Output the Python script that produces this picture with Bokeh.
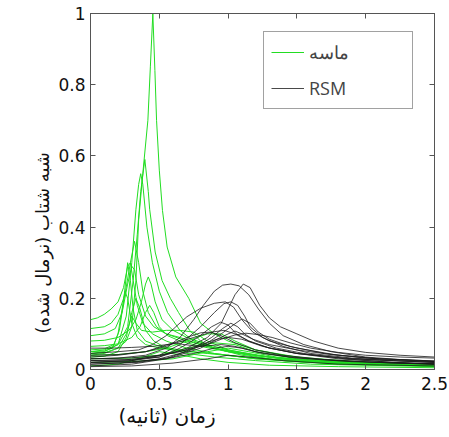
import math
from bokeh.plotting import figure
from bokeh.models import Legend, LegendItem, LinearAxis, Title, FixedTicker, Range1d
from bokeh.embed import file_html
from bokeh.resources import INLINE

x_ticks = [0, 0.5, 1, 1.5, 2, 2.5]
x_tick_labels = ["0", "0.5", "1", "1.5", "2", "2.5"]
y_ticks = [0, 0.2, 0.4, 0.6, 0.8, 1]
y_tick_labels = ["0", "0.2", "0.4", "0.6", "0.8", "1"]

x_label = "زمان (ثانیه)"
y_label = "شبه شتاب (نرمال شده)"
sand_name = "ماسه"
rsm_name = "RSM"

# sand (ماسه) records: time (s) and normalised pseudo-acceleration
sand_t = [
    [0, 0.1, 0.2, 0.26, 0.3, 0.33, 0.35, 0.38, 0.417, 0.435, 0.453, 0.468, 0.48, 0.5, 0.523, 0.557, 0.62, 0.714, 0.8, 0.9, 1.0, 1.2, 1.5, 2.0, 2.5],
    [0, 0.1, 0.2, 0.27, 0.31, 0.34, 0.365, 0.395, 0.42, 0.43, 0.47, 0.52, 0.58, 0.64, 0.72, 0.8, 0.9, 1.1, 1.4, 1.8, 2.5],
    [0, 0.1, 0.2, 0.26, 0.3, 0.33, 0.35, 0.365, 0.38, 0.41, 0.45, 0.5, 0.56, 0.65, 0.75, 0.9, 1.1, 1.4, 1.8, 2.5],
    [0, 0.05, 0.1, 0.15, 0.2, 0.24, 0.27, 0.29, 0.31, 0.34, 0.38, 0.45, 0.55, 0.7, 0.9, 1.2, 1.6, 2.0, 2.5],
    [0, 0.1, 0.15, 0.2, 0.25, 0.29, 0.32, 0.35, 0.38, 0.42, 0.48, 0.55, 0.7, 0.9, 1.1, 1.4, 1.8, 2.5],
    [0, 0.1, 0.18, 0.23, 0.27, 0.3, 0.32, 0.35, 0.4, 0.46, 0.55, 0.65, 0.8, 1.0, 1.3, 1.7, 2.5],
    [0, 0.1, 0.2, 0.28, 0.33, 0.37, 0.4, 0.42, 0.44, 0.47, 0.52, 0.6, 0.7, 0.85, 1.0, 1.3, 1.7, 2.5],
    [0, 0.1, 0.2, 0.3, 0.36, 0.4, 0.43, 0.46, 0.5, 0.56, 0.65, 0.8, 1.0, 1.3, 1.7, 2.5],
    [0, 0.1, 0.17, 0.21, 0.24, 0.27, 0.29, 0.31, 0.34, 0.4, 0.5, 0.65, 0.85, 1.1, 1.5, 2.0, 2.5],
    [0, 0.1, 0.16, 0.2, 0.23, 0.25, 0.27, 0.3, 0.34, 0.4, 0.5, 0.7, 0.9, 1.2, 1.6, 2.5],
    [0, 0.1, 0.2, 0.26, 0.3, 0.33, 0.37, 0.45, 0.55, 0.65, 0.75, 0.85, 1.0, 1.2, 1.5, 2.0, 2.5],
    [0, 0.2, 0.4, 0.55, 0.7, 0.85, 0.95, 1.05, 1.2, 1.4, 1.7, 2.1, 2.5],
    [0, 0.3, 0.5, 0.7, 0.9, 1.05, 1.2, 1.5, 1.9, 2.5],
    [0, 0.3, 0.6, 0.85, 1.0, 1.15, 1.35, 1.7, 2.2, 2.5],
    [0, 0.2, 0.35, 0.5, 0.6, 0.8, 1.0, 1.3, 1.8, 2.5],
    [0, 0.1, 0.2, 0.26, 0.3, 0.33, 0.36, 0.4, 0.46, 0.55, 0.7, 0.9, 1.2, 1.6, 2.5],
]
sand_a = [
    [0.04, 0.045, 0.06, 0.08, 0.12, 0.25, 0.42, 0.55, 0.70, 0.85, 1.0, 0.84, 0.70, 0.56, 0.447, 0.344, 0.26, 0.2, 0.13, 0.1, 0.08, 0.055, 0.035, 0.02, 0.015],
    [0.05, 0.055, 0.07, 0.12, 0.25, 0.38, 0.5, 0.59, 0.5, 0.45, 0.33, 0.25, 0.2, 0.16, 0.11, 0.08, 0.06, 0.04, 0.025, 0.015, 0.01],
    [0.045, 0.05, 0.07, 0.15, 0.3, 0.45, 0.52, 0.55, 0.52, 0.4, 0.3, 0.22, 0.16, 0.11, 0.08, 0.06, 0.045, 0.03, 0.02, 0.012],
    [0.14, 0.145, 0.155, 0.17, 0.19, 0.23, 0.29, 0.3, 0.25, 0.18, 0.13, 0.1, 0.08, 0.06, 0.045, 0.03, 0.02, 0.015, 0.01],
    [0.115, 0.12, 0.13, 0.155, 0.21, 0.3, 0.36, 0.3, 0.22, 0.16, 0.12, 0.1, 0.08, 0.06, 0.045, 0.03, 0.02, 0.012],
    [0.095, 0.1, 0.115, 0.16, 0.24, 0.29, 0.28, 0.21, 0.15, 0.12, 0.1, 0.09, 0.07, 0.05, 0.035, 0.022, 0.012],
    [0.08, 0.082, 0.09, 0.11, 0.14, 0.19, 0.24, 0.26, 0.24, 0.19, 0.14, 0.11, 0.09, 0.07, 0.055, 0.035, 0.022, 0.012],
    [0.065, 0.067, 0.072, 0.09, 0.12, 0.16, 0.18, 0.16, 0.12, 0.095, 0.08, 0.065, 0.05, 0.03, 0.02, 0.01],
    [0.055, 0.058, 0.07, 0.11, 0.19, 0.3, 0.25, 0.17, 0.11, 0.08, 0.065, 0.055, 0.045, 0.035, 0.022, 0.015, 0.01],
    [0.05, 0.052, 0.06, 0.1, 0.17, 0.22, 0.2, 0.13, 0.09, 0.07, 0.06, 0.05, 0.045, 0.03, 0.02, 0.01],
    [0.045, 0.047, 0.06, 0.1, 0.15, 0.13, 0.11, 0.105, 0.11, 0.11, 0.105, 0.08, 0.055, 0.04, 0.025, 0.015, 0.01],
    [0.04, 0.042, 0.05, 0.06, 0.08, 0.1, 0.1, 0.08, 0.055, 0.04, 0.025, 0.018, 0.015],
    [0.03, 0.032, 0.04, 0.06, 0.075, 0.07, 0.05, 0.03, 0.02, 0.012],
    [0.02, 0.022, 0.03, 0.05, 0.06, 0.05, 0.035, 0.02, 0.012, 0.01],
    [0.01, 0.015, 0.03, 0.05, 0.045, 0.03, 0.02, 0.012, 0.008, 0.005],
    [0.035, 0.037, 0.05, 0.09, 0.16, 0.2, 0.17, 0.11, 0.08, 0.06, 0.045, 0.035, 0.025, 0.015, 0.008],
]

# RSM records
rsm_t = [
    [0, 0.2, 0.4, 0.55, 0.65, 0.75, 0.82, 0.9, 0.96, 1.02, 1.08, 1.15, 1.22, 1.3, 1.4, 1.55, 1.75, 2.0, 2.25, 2.5],
    [0, 0.3, 0.5, 0.7, 0.85, 0.95, 1.0, 1.05, 1.11, 1.16, 1.23, 1.3, 1.38, 1.5, 1.62, 1.8, 2.0, 2.25, 2.5],
    [0, 0.3, 0.5, 0.65, 0.8, 0.9, 0.97, 1.02, 1.07, 1.12, 1.16, 1.25, 1.4, 1.6, 1.9, 2.2, 2.5],
    [0, 0.2, 0.35, 0.45, 0.55, 0.62, 0.7, 0.8, 0.9, 0.98, 1.04, 1.1, 1.18, 1.3, 1.5, 1.8, 2.1, 2.5],
    [0, 0.3, 0.5, 0.7, 0.85, 0.95, 1.02, 1.1, 1.16, 1.22, 1.3, 1.45, 1.7, 2.0, 2.5],
    [0, 0.3, 0.5, 0.65, 0.78, 0.88, 0.945, 1.0, 1.06, 1.15, 1.3, 1.5, 1.8, 2.2, 2.5],
    [0, 0.3, 0.55, 0.75, 0.88, 0.96, 1.02, 1.07, 1.12, 1.2, 1.35, 1.55, 1.85, 2.2, 2.5],
    [0, 0.2, 0.4, 0.55, 0.7, 0.8, 0.87, 0.95, 1.05, 1.2, 1.4, 1.7, 2.1, 2.5],
    [0, 0.3, 0.5, 0.7, 0.85, 0.95, 1.05, 1.13, 1.22, 1.32, 1.45, 1.6, 1.8, 2.0, 2.25, 2.5],
    [0, 0.15, 0.3, 0.45, 0.6, 0.75, 0.88, 0.97, 1.05, 1.15, 1.3, 1.5, 1.8, 2.1, 2.5],
    [0, 0.2, 0.4, 0.52, 0.6, 0.68, 0.8, 0.95, 1.05, 1.2, 1.45, 1.8, 2.2, 2.5],
    [0, 0.3, 0.55, 0.75, 0.9, 1.0, 1.1, 1.25, 1.5, 1.9, 2.5],
    [0, 0.3, 0.6, 0.85, 1.0, 1.15, 1.4, 1.8, 2.5],
    [0, 0.25, 0.45, 0.65, 0.8, 0.92, 1.0, 1.1, 1.25, 1.5, 1.9, 2.5],
    [0, 0.35, 0.6, 0.8, 0.92, 1.0, 1.05, 1.1, 1.18, 1.3, 1.5, 1.75, 2.1, 2.5],
]
rsm_a = [
    [0.03, 0.032, 0.04, 0.06, 0.09, 0.14, 0.18, 0.22, 0.237, 0.24, 0.235, 0.21, 0.17, 0.13, 0.095, 0.07, 0.05, 0.035, 0.028, 0.022],
    [0.025, 0.028, 0.035, 0.06, 0.09, 0.13, 0.17, 0.21, 0.24, 0.23, 0.18, 0.145, 0.12, 0.1, 0.08, 0.06, 0.048, 0.04, 0.035],
    [0.02, 0.025, 0.04, 0.07, 0.12, 0.16, 0.185, 0.19, 0.18, 0.15, 0.12, 0.09, 0.065, 0.045, 0.032, 0.025, 0.02],
    [0.045, 0.05, 0.055, 0.07, 0.095, 0.12, 0.148, 0.172, 0.186, 0.19, 0.175, 0.14, 0.105, 0.08, 0.06, 0.04, 0.03, 0.024],
    [0.015, 0.02, 0.03, 0.05, 0.075, 0.1, 0.12, 0.142, 0.13, 0.105, 0.085, 0.065, 0.045, 0.032, 0.022],
    [0.02, 0.025, 0.035, 0.06, 0.09, 0.12, 0.133, 0.125, 0.1, 0.08, 0.06, 0.045, 0.03, 0.02, 0.016],
    [0.01, 0.015, 0.03, 0.06, 0.09, 0.115, 0.13, 0.12, 0.1, 0.08, 0.06, 0.045, 0.03, 0.02, 0.015],
    [0.04, 0.042, 0.05, 0.065, 0.09, 0.103, 0.105, 0.095, 0.075, 0.055, 0.04, 0.028, 0.02, 0.016],
    [0.03, 0.033, 0.04, 0.055, 0.07, 0.085, 0.097, 0.102, 0.098, 0.09, 0.075, 0.06, 0.048, 0.04, 0.035, 0.032],
    [0.06, 0.06, 0.062, 0.065, 0.072, 0.09, 0.105, 0.11, 0.1, 0.08, 0.06, 0.045, 0.033, 0.026, 0.02],
    [0.035, 0.04, 0.05, 0.065, 0.075, 0.07, 0.065, 0.07, 0.065, 0.05, 0.035, 0.025, 0.018, 0.015],
    [0.02, 0.022, 0.03, 0.045, 0.06, 0.065, 0.06, 0.045, 0.032, 0.022, 0.015],
    [0.008, 0.01, 0.018, 0.03, 0.04, 0.035, 0.025, 0.015, 0.01],
    [0.025, 0.027, 0.035, 0.05, 0.07, 0.085, 0.09, 0.085, 0.065, 0.045, 0.03, 0.02],
    [0.015, 0.02, 0.035, 0.06, 0.085, 0.1, 0.108, 0.1, 0.085, 0.07, 0.055, 0.042, 0.03, 0.024],
]

GREEN = "#22dd22"
BLACK = "#1a1a1a"
AXIS = "#555555"

p = figure(width=449, height=437, x_range=Range1d(0, 2.5), y_range=Range1d(0, 1),
           output_backend="svg", toolbar_location=None,
           min_border_left=90, min_border_right=15, min_border_top=13, min_border_bottom=68)
p.grid.visible = False
p.outline_line_color = AXIS
p.background_fill_color = "white"
p.border_fill_color = "white"

g = p.multi_line(xs=sand_t, ys=sand_a, line_color=GREEN, line_width=1)
b = p.multi_line(xs=rsm_t, ys=rsm_a, line_color=BLACK, line_width=0.8)


def style_axis(ax, ticks, labels, show):
    ax.ticker = FixedTicker(ticks=ticks)
    ax.axis_line_color = AXIS
    ax.major_tick_line_color = AXIS
    ax.major_tick_in = 5
    ax.major_tick_out = 0
    ax.minor_tick_line_color = None
    ax.major_label_text_font = "DejaVu Sans"
    ax.major_label_text_font_size = "17px"
    ax.major_label_text_color = "#111111"
    if show:
        ax.major_label_overrides = {t: l for t, l in zip(ticks, labels)}
    else:
        ax.major_label_overrides = {t: "" for t in ticks}
        ax.major_label_standoff = 0


style_axis(p.xaxis[0], x_ticks, x_tick_labels, True)
p.xaxis[0].major_label_standoff = 7
style_axis(p.yaxis[0], y_ticks, y_tick_labels, True)
p.yaxis[0].major_label_standoff = 5

top = LinearAxis()
right = LinearAxis()
style_axis(top, x_ticks, x_tick_labels, False)
style_axis(right, y_ticks, y_tick_labels, False)
p.add_layout(top, "above")
p.add_layout(right, "right")

# invisible spacer between the y tick labels and the y title
spacer = LinearAxis()
style_axis(spacer, y_ticks, y_tick_labels, False)
spacer.axis_line_color = None
spacer.major_tick_line_color = None
spacer.major_tick_in = 0
spacer.major_label_standoff = 14
p.add_layout(spacer, "left")

legend = Legend(items=[LegendItem(label=sand_name, renderers=[g]),
                       LegendItem(label=rsm_name, renderers=[b])],
                location=(173, 260), glyph_width=33, glyph_height=26,
                label_height=26, label_width=96, label_standoff=5,
                padding=7, spacing=10, margin=0,
                border_line_color="#444444", border_line_width=1,
                label_text_font="Open Sans", label_text_font_size="18px",
                background_fill_color="white", background_fill_alpha=1)
p.add_layout(legend)

xt = Title(text=x_label, align="left", offset=28, standoff=18,
           text_font="DejaVu Sans", text_font_size="20px",
           text_font_style="normal", text_color="#111111")
yt = Title(text=y_label, align="left", offset=36, standoff=6,
           text_font="DejaVu Sans", text_font_size="18px",
           text_font_style="normal", text_color="#111111")
p.add_layout(xt, "below")
p.add_layout(yt, "left")

open("out.html", "w").write(file_html(p, INLINE))
